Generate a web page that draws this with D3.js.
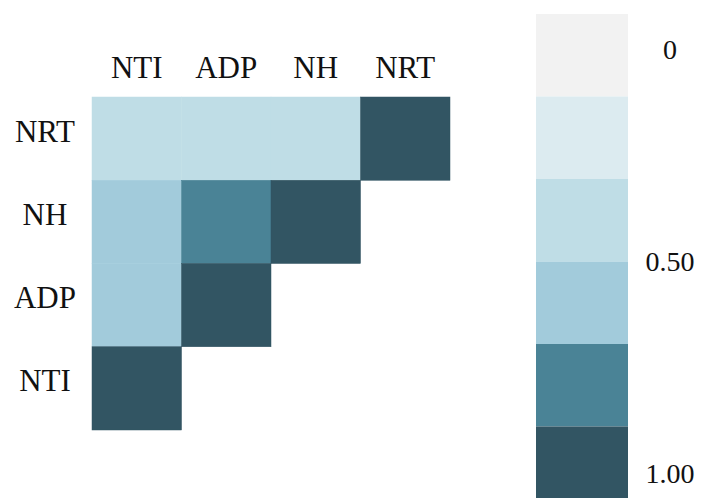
<!DOCTYPE html>
<html>
<head>
<meta charset="utf-8">
<script src="https://cdn.jsdelivr.net/npm/d3@7"></script>
<style>
  html, body { margin: 0; padding: 0; background: #fff; overflow: hidden; }
  svg { display: block; }
  text { font-family: "Liberation Serif", "Times New Roman", serif; fill: #111; }
</style>
</head>
<body>
<svg id="chart" width="704" height="498"></svg>
<script>
// Variables shown on the correlation matrix
const columns = ["NTI", "ADP", "NH", "NRT"];
const rows = ["NRT", "NH", "ADP", "NTI"];

// Lower-triangle correlation values, one entry per drawn cell
const cellRow = ["NRT", "NRT", "NRT", "NRT", "NH", "NH", "NH", "ADP", "ADP", "NTI"];
const cellCol = ["NTI", "ADP", "NH", "NRT", "NTI", "ADP", "NH", "NTI", "ADP", "NTI"];
const cellValue = [0.42, 0.44, 0.41, 1.00, 0.58, 0.76, 1.00, 0.57, 1.00, 1.00];

// Colour bins from weak to strong correlation
const binColors = ["#f2f2f2", "#dcebf0", "#bfdde6", "#a2cbdb", "#4a8396", "#325563"];
const legendTicks = [0, 0.5, 1.0];
const legendTickLabels = ["0", "0.50", "1.00"];

const svg = d3.select("#chart");

const x = d3.scaleBand().domain(columns).range([92, 450]).padding(0);
const y = d3.scaleBand().domain(rows).range([97, 430]).padding(0);
const color = d3.scaleQuantize().domain([0, 1]).range(binColors);

const cells = cellValue.map((v, i) => ({ row: cellRow[i], col: cellCol[i], value: v }));

// Heatmap cells
svg.append("g")
  .selectAll("rect")
  .data(cells)
  .join("rect")
  .attr("x", d => x(d.col))
  .attr("y", d => y(d.row))
  .attr("width", x.bandwidth())
  .attr("height", y.bandwidth())
  .attr("fill", d => color(d.value))
  .attr("stroke", d => color(d.value))
  .attr("stroke-width", 0.5);

// Column labels above the grid
svg.append("g")
  .selectAll("text")
  .data(columns)
  .join("text")
  .attr("x", d => x(d) + x.bandwidth() / 2)
  .attr("y", 78)
  .attr("text-anchor", "middle")
  .attr("font-size", 31)
  .text(d => d);

// Row labels to the left of the grid
svg.append("g")
  .selectAll("text")
  .data(rows)
  .join("text")
  .attr("x", 45)
  .attr("y", d => y(d) + y.bandwidth() / 2 + 3)
  .attr("text-anchor", "middle")
  .attr("font-size", 31)
  .text(d => d);

// Discrete colour legend
const legendY = d3.scaleLinear().domain([0, 1]).range([14, 509]);
const binEdges = d3.range(binColors.length + 1).map(i => i / binColors.length);
svg.append("g")
  .selectAll("rect")
  .data(binColors)
  .join("rect")
  .attr("x", 536)
  .attr("y", (c, i) => legendY(binEdges[i]))
  .attr("width", 92)
  .attr("height", (c, i) => legendY(binEdges[i + 1]) - legendY(binEdges[i]))
  .attr("fill", c => c);

const tickY = d3.scaleLinear().domain([0, 1]).range([59, 483]);
svg.append("g")
  .selectAll("text")
  .data(legendTicks)
  .join("text")
  .attr("x", 670)
  .attr("y", d => tickY(d))
  .attr("text-anchor", "middle")
  .attr("font-size", 28)
  .text((d, i) => legendTickLabels[i]);
</script>
</body>
</html>
